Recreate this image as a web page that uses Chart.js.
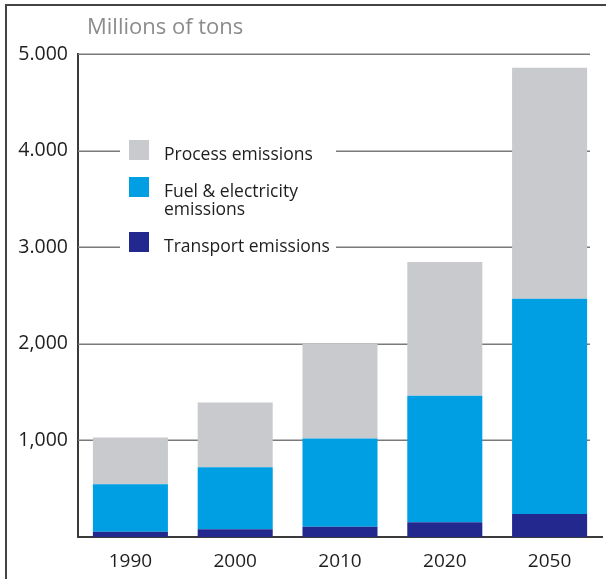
<!DOCTYPE html>
<html>
<head>
<meta charset="utf-8">
<script src="https://cdn.jsdelivr.net/npm/chart.js@4/dist/chart.umd.min.js"></script>
<style>
  html, body { margin: 0; padding: 0; background: #fff; }
  #wrap { position: relative; width: 606px; height: 579px; overflow: hidden; }
  #frame { position: absolute; left: 5px; top: 4px; right: -10px; bottom: -10px;
           border-top: 2px solid #444; border-left: 2px solid #444; pointer-events: none; }
  canvas { position: absolute; left: 0; top: 0; }
</style>
</head>
<body>
<div id="wrap">
  <canvas id="c" width="606" height="579"></canvas>
  <div id="frame"></div>
</div>
<script>
// Emissions by year, millions of tons
const years = ['1990', '2000', '2010', '2020', '2050'];
const transport = [55, 80, 107, 152, 238];
const fuelElectricity = [490, 642, 913, 1309, 2228];
const processEmissions = [484, 670, 980, 1386, 2391];

const seriesNames = ['Transport emissions', 'Fuel & electricity emissions', 'Process emissions'];
const legendLines = [['Transport emissions'], ['Fuel & electricity', 'emissions'], ['Process emissions']];
const yTickLabels = ['', '1,000', '2,000', '3.000', '4.000', '5.000'];
const unitTitle = 'Millions of tons';

const colors = ['#22288e', '#009fe3', '#c9cacd'];
const FONT = "'Open Sans', 'Noto Sans', sans-serif";

// Horizontal reference lines, stopping short of the right edge
const gridPlugin = {
  id: 'customGrid',
  beforeDatasetsDraw(chart) {
    const { ctx, chartArea, scales: { y } } = chart;
    const rightEnd = 590;
    ctx.save();
    ctx.strokeStyle = '#7a7a7a';
    ctx.lineWidth = 1.5;
    y.ticks.forEach(t => {
      if (t.value === 0) return;
      const py = Math.round(y.getPixelForValue(t.value)) + 0.25;
      ctx.beginPath();
      ctx.moveTo(chartArea.left, py);
      ctx.lineTo(rightEnd, py);
      ctx.stroke();
    });
    ctx.restore();
  }
};

// Unit caption and the boxed legend inside the plot
const decorPlugin = {
  id: 'decor',
  afterDatasetsDraw(chart) {
    const { ctx } = chart;
    ctx.save();
    // caption
    ctx.fillStyle = '#8c8c8c';
    ctx.font = `22px ${FONT}`;
    ctx.textBaseline = 'alphabetic';
    ctx.textAlign = 'left';
    ctx.fillText(unitTitle, 87, 34);

    // legend background interrupts the grid lines
    ctx.fillStyle = '#fff';
    ctx.fillRect(120, 134, 216, 124);

    const items = chart.data.datasets.map((d, i) => ({ color: d.backgroundColor, lines: legendLines[i] })).reverse();
    const boxTops = [140, 177, 232];
    ctx.font = `17.5px ${FONT}`;
    items.forEach((it, i) => {
      const top = boxTops[i];
      ctx.fillStyle = it.color;
      ctx.fillRect(129, top, 20, 20);
      ctx.fillStyle = '#1e1e1e';
      it.lines.forEach((ln, j) => {
        ctx.fillText(ln, 164, top + 20 + j * 18);
      });
    });
    ctx.restore();
  }
};

new Chart(document.getElementById('c'), {
  type: 'bar',
  data: {
    labels: years,
    datasets: [
      { label: seriesNames[0], data: transport, backgroundColor: colors[0] },
      { label: seriesNames[1], data: fuelElectricity, backgroundColor: colors[1] },
      { label: seriesNames[2], data: processEmissions, backgroundColor: colors[2] }
    ]
  },
  options: {
    responsive: false,
    animation: false,
    devicePixelRatio: 1,
    layout: { padding: { left: 0, right: 4, top: 54, bottom: 0 } },
    datasets: { bar: { barPercentage: 1, categoryPercentage: 0.716, borderWidth: 0 } },
    plugins: {
      legend: { display: false },
      title: { display: false },
      tooltip: { enabled: false }
    },
    scales: {
      x: {
        stacked: true,
        grid: { display: false, drawTicks: false },
        border: { display: true, color: '#3a3a3a', width: 2 },
        ticks: { color: '#1e1e1e', font: { family: FONT, size: 19 }, padding: 13 },
        afterFit(scale) { scale.height = 42; }
      },
      y: {
        stacked: true,
        min: 0,
        max: 5000,
        grid: { display: false, drawTicks: false },
        border: { display: true, color: '#3a3a3a', width: 2 },
        ticks: {
          stepSize: 1000,
          color: '#1e1e1e',
          font: { family: FONT, size: 19.5 },
          padding: 10,
          callback: (v, i) => yTickLabels[i]
        },
        afterFit(scale) { scale.width = 78; }
      }
    }
  },
  plugins: [gridPlugin, decorPlugin]
});
</script>
</body>
</html>
